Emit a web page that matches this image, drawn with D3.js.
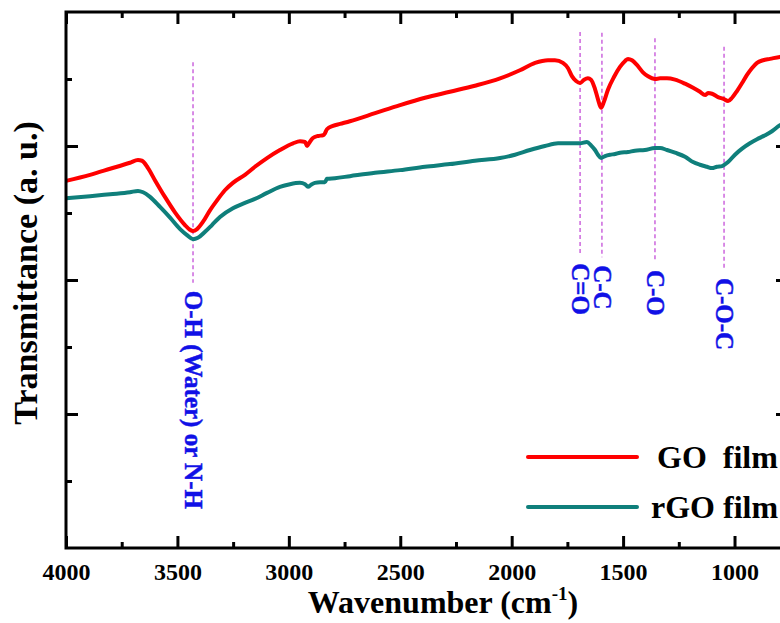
<!DOCTYPE html>
<html>
<head>
<meta charset="utf-8">
<script src="https://cdn.jsdelivr.net/npm/d3@7"></script>
<style>
  html, body { margin: 0; padding: 0; background: #fff; }
  svg { display: block; }
  text { font-family: "Liberation Serif", "Times New Roman", serif; font-weight: bold; }
</style>
</head>
<body>
<svg id="chart" width="780" height="623"></svg>
<script>
// FTIR spectra of GO and rGO films (transmittance, arbitrary units)
const goWavenumber = [4000,3892,3802,3713,3677,3659,3632,3601,3556,3511,
  3466,3444,3430,3412,3385,3354,3322,3287,3251,3197,
  3152,3098,3040,2981,2950,2927,2918,2910,2892,2869,
  2847,2838,2829,2802,2770,2726,2613,2501,2389,2277,
  2165,2052,1963,1895,1837,1806,1770,1747,1729,1711,
  1693,1675,1658,1644,1626,1613,1599,1586,1568,1541,
  1514,1491,1478,1460,1438,1411,1388,1357,1334,1303,
  1267,1222,1186,1155,1132,1119,1101,1074,1047,1029,
  1011,989,966,944,922,899,872,841,796,760];
const goTransmittance = [5.48,5.57,5.66,5.75,5.79,5.78,5.67,5.49,5.24,5.01,
  4.82,4.75,4.73,4.76,4.87,5.04,5.19,5.34,5.45,5.57,
  5.69,5.82,5.94,6.04,6.07,6.06,6.00,6.04,6.12,6.15,
  6.16,6.19,6.25,6.30,6.33,6.37,6.49,6.61,6.72,6.81,
  6.90,7.01,7.13,7.24,7.28,7.28,7.24,7.16,7.04,6.97,
  6.94,6.99,7.01,6.99,6.85,6.70,6.57,6.66,6.84,7.03,
  7.18,7.27,7.30,7.28,7.21,7.10,7.04,7.00,7.01,7.01,
  6.99,6.93,6.87,6.81,6.76,6.79,6.78,6.73,6.70,6.67,
  6.72,6.82,6.94,7.06,7.16,7.24,7.28,7.30,7.33,7.34];

const rgoWavenumber = [4000,3892,3802,3713,3677,3654,3623,3578,3533,3488,
  3457,3430,3408,3376,3345,3309,3251,3197,3152,3098,
  3040,2995,2950,2927,2914,2901,2883,2860,2838,2829,
  2793,2726,2613,2501,2389,2277,2165,2052,1985,1918,
  1851,1792,1738,1693,1662,1644,1626,1613,1599,1581,
  1559,1536,1514,1478,1447,1402,1357,1334,1303,1267,
  1222,1186,1155,1124,1101,1079,1056,1029,998,966,
  931,899,863,832,796,760];
const rgoTransmittance = [5.22,5.25,5.28,5.31,5.33,5.31,5.24,5.09,4.93,4.76,
  4.67,4.61,4.63,4.72,4.82,4.94,5.07,5.15,5.21,5.30,
  5.39,5.43,5.45,5.43,5.39,5.42,5.45,5.46,5.46,5.51,
  5.52,5.55,5.60,5.64,5.69,5.73,5.78,5.82,5.87,5.94,
  6.00,6.04,6.04,6.04,6.06,6.01,5.94,5.87,5.82,5.85,
  5.87,5.88,5.90,5.91,5.93,5.94,5.97,5.97,5.94,5.90,
  5.84,5.76,5.72,5.69,5.67,5.69,5.70,5.76,5.87,5.96,
  6.04,6.10,6.16,6.22,6.31,6.36];

const seriesNames = ["GO  film", "rGO film"];
const seriesColors = ["#ff0000", "#0f7f7b"];

// Assigned absorption bands
const bandLabels = ["O-H (Water) or N-H", "C=O", "C-C", "C-O", "C-O-C"];
const bandWavenumbers = [3430, 1693, 1595, 1357, 1047];
// vertical extent of each marker line, in transmittance units
const bandTop = [7.25, 7.70, 7.69, 7.61, 7.48];
const bandBottom = [3.96, 4.37, 4.34, 4.27, 4.15];

const xMajorTicks = [4000, 3500, 3000, 2500, 2000, 1500, 1000];
const xMinorTicks = [3750, 3250, 2750, 2250, 1750, 1250];
const yMajorTicks = [2, 4, 6];
const yMinorTicks = [1, 3, 5, 7];

const svg = d3.select("#chart");
const plotLeft = 66, plotRight = 788, plotTop = 12, plotBottom = 548;

const x = d3.scaleLinear().domain([4000, 760]).range([plotLeft, plotRight]);
const y = d3.scaleLinear().domain([0, 8]).range([plotBottom, plotTop]);

// marker lines for bands
const bandColor = "#cc66dd";
const labelColor = "#1010e6";
bandWavenumbers.forEach((wn, i) => {
  svg.append("line")
    .attr("x1", x(wn)).attr("x2", x(wn))
    .attr("y1", y(bandTop[i])).attr("y2", y(bandBottom[i]))
    .attr("stroke", bandColor).attr("stroke-width", 1.5)
    .attr("stroke-dasharray", "4,3");
  svg.append("text")
    .attr("transform", `translate(${x(wn)},${y(bandBottom[i]) + 8}) rotate(90)`)
    .attr("dy", "0.33em")
    .attr("font-size", 25)
    .attr("fill", labelColor)
    .attr("stroke", labelColor).attr("stroke-width", 0.5)
    .text(bandLabels[i]);
});

// spectra
const line = d3.line().x(d => x(d[0])).y(d => y(d[1])).curve(d3.curveMonotoneX);
const rgoData = d3.zip(rgoWavenumber, rgoTransmittance);
const goData = d3.zip(goWavenumber, goTransmittance);
svg.append("path").datum(rgoData).attr("d", line)
  .attr("fill", "none").attr("stroke", seriesColors[1]).attr("stroke-width", 4)
  .attr("stroke-linejoin", "round");
svg.append("path").datum(goData).attr("d", line)
  .attr("fill", "none").attr("stroke", seriesColors[0]).attr("stroke-width", 4)
  .attr("stroke-linejoin", "round");

// axes: ticks point into the plot on all four sides
function styleAxis(g) {
  g.select(".domain").remove();
  g.selectAll(".tick line").attr("stroke", "#000").attr("stroke-width", 3);
}
const bottomMajor = svg.append("g").attr("transform", `translate(0,${plotBottom})`)
  .call(d3.axisBottom(x).tickValues(xMajorTicks).tickSize(-12).tickFormat(d3.format("d")));
styleAxis(bottomMajor);
bottomMajor.selectAll(".tick text")
  .attr("y", 32).attr("dy", 0)
  .attr("font-size", 24).attr("fill", "#000")
  .style("font-family", '"Liberation Serif","Times New Roman",serif').style("font-weight", "bold");
styleAxis(svg.append("g").attr("transform", `translate(0,${plotBottom})`)
  .call(d3.axisBottom(x).tickValues(xMinorTicks).tickSize(-6).tickFormat("")));
styleAxis(svg.append("g").attr("transform", `translate(0,${plotTop})`)
  .call(d3.axisTop(x).tickValues(xMajorTicks).tickSize(-12).tickFormat("")));
styleAxis(svg.append("g").attr("transform", `translate(0,${plotTop})`)
  .call(d3.axisTop(x).tickValues(xMinorTicks).tickSize(-6).tickFormat("")));
styleAxis(svg.append("g").attr("transform", `translate(${plotLeft},0)`)
  .call(d3.axisLeft(y).tickValues(yMajorTicks).tickSize(-12).tickFormat("")));
styleAxis(svg.append("g").attr("transform", `translate(${plotLeft},0)`)
  .call(d3.axisLeft(y).tickValues(yMinorTicks).tickSize(-6).tickFormat("")));
styleAxis(svg.append("g").attr("transform", `translate(${plotRight},0)`)
  .call(d3.axisRight(y).tickValues(yMajorTicks).tickSize(-12).tickFormat("")));
styleAxis(svg.append("g").attr("transform", `translate(${plotRight},0)`)
  .call(d3.axisRight(y).tickValues(yMinorTicks).tickSize(-6).tickFormat("")));

svg.append("rect")
  .attr("x", plotLeft).attr("y", plotTop)
  .attr("width", plotRight - plotLeft).attr("height", plotBottom - plotTop)
  .attr("fill", "none").attr("stroke", "#000").attr("stroke-width", 3);

// axis titles
const xTitle = svg.append("text")
  .attr("x", 443).attr("y", 613)
  .attr("text-anchor", "middle").attr("font-size", 32).attr("fill", "#000");
xTitle.append("tspan").text("Wavenumber (cm");
xTitle.append("tspan").attr("font-size", 19).attr("dy", -13).text("-1");
xTitle.append("tspan").attr("dy", 13).text(")");

svg.append("text")
  .attr("transform", "translate(37,273) rotate(-90)")
  .attr("text-anchor", "middle").attr("font-size", 34).attr("fill", "#000")
  .text("Transmittance (a. u.)");

// legend
const legendY = [457, 507];
const legendTextX = [657, 651];
seriesNames.forEach((name, i) => {
  svg.append("line")
    .attr("x1", 528).attr("x2", 637)
    .attr("y1", legendY[i]).attr("y2", legendY[i])
    .attr("stroke", seriesColors[i]).attr("stroke-width", 4)
    .attr("stroke-linecap", "round");
  svg.append("text")
    .attr("x", legendTextX[i]).attr("y", legendY[i] + 11)
    .attr("font-size", 32).attr("fill", "#000")
    .style("white-space", "pre")
    .text(name);
});
</script>
</body>
</html>
